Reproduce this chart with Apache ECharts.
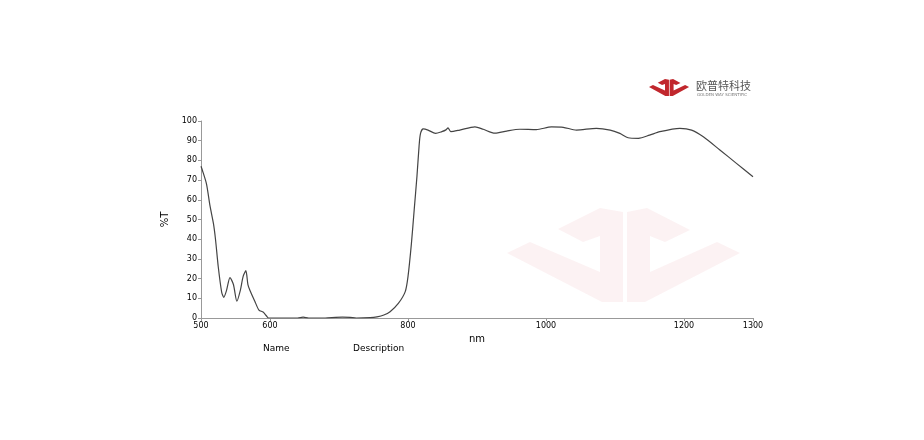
<!DOCTYPE html>
<html>
<head>
<meta charset="utf-8">
<style>
html,body{margin:0;padding:0;background:#fff;}
#chart{width:924px;height:440px;}
</style>
<script src="https://cdn.jsdelivr.net/npm/echarts@6/dist/echarts.min.js"></script>
</head>
<body>
<div id="chart"></div>
<script>
// Wavelength (nm)
var wavelength = [500, 502, 508, 513, 518, 521, 525, 530, 533, 537, 542, 547, 552, 557, 561, 565, 568, 571, 578, 584, 590, 595, 598, 620, 640, 648, 656, 680, 695, 705, 716, 725, 745, 755, 765, 774, 786, 796, 800, 805, 809, 813, 816, 818, 822, 829, 840, 849, 855, 858, 862, 875, 897, 909, 926, 943, 962, 986, 1008, 1025, 1044, 1073, 1093, 1107, 1119, 1134, 1150, 1165, 1194, 1211, 1228, 1252, 1276, 1300];
// Transmittance (%T)
var transmittance = [77, 75, 68, 57, 48, 40, 26, 13, 10.5, 14, 20.5, 17, 8.5, 14, 21, 24, 17, 14, 8.5, 4, 3, 1, 0, 0, 0, 0.4, 0, 0, 0.3, 0.4, 0.3, 0, 0.2, 0.6, 1.5, 3.2, 7.4, 13.4, 21, 38, 55, 72, 87, 93.5, 96, 95.4, 93.7, 94.6, 95.5, 96.5, 94.6, 95.4, 97, 95.8, 93.8, 94.9, 95.8, 95.6, 97, 96.8, 95.4, 96.3, 95.4, 93.7, 91.5, 91.2, 92.8, 94.6, 96.3, 95.4, 92, 85.3, 78.5, 71.7];
// Tick labels
var xTickValues = [500, 600, 800, 1000, 1200, 1300];
var yTickStep = 10;

var seriesData = wavelength.map(function (w, i) { return [w, transmittance[i]]; });

// decorative logo shapes (same outline used for watermark and small logo)
var leftMark = [[507,253],[530,242],[600,272],[600,236],[583,242],[558,229],[600,208],[623,212],[623,302],[602,302]];
var rightMark = [[627,212],[647,208],[690,230],[665,242],[650,236],[650,272],[717,242],[740,253],[645,302],[627,302]];
function shift(pts, ox, oy){ return pts.map(function(p){return [p[0]-ox, p[1]-oy];}); }

var chart = echarts.init(document.getElementById('chart'), null, {renderer: 'canvas'});
var font = '"DejaVu Sans", Verdana, sans-serif';
chart.setOption({
  animation: false,
  backgroundColor: '#ffffff',
  grid: {left: 201, right: 171, top: 121, bottom: 122, containLabel: false},
  graphic: [
    {type: 'group', z: -10, silent: true, children: [
      {type: 'polygon', shape: {points: leftMark}, style: {fill: 'rgba(205,40,50,0.06)'}},
      {type: 'polygon', shape: {points: rightMark}, style: {fill: 'rgba(205,40,50,0.06)'}}
    ]},
    {type: 'group', x: 649, y: 79, scaleX: 0.172, scaleY: 0.18, silent: true, children: [
      {type: 'polygon', shape: {points: shift(leftMark, 507, 208)}, style: {fill: '#c1272d'}},
      {type: 'polygon', shape: {points: shift(rightMark, 507, 208)}, style: {fill: '#c1272d'}}
    ]},
    {type: 'text', x: 696, y: 80, style: {text: '欧普特科技', fill: '#555', font: '11px "Noto Sans CJK SC", sans-serif'}},
    {type: 'text', x: 697, y: 93, style: {text: 'GOLDEN WAY SCIENTIFIC', fill: '#777', font: '4px "DejaVu Sans", sans-serif'}},
    {type: 'text', x: 263, y: 344, style: {text: 'Name', fill: '#000', font: '9px ' + font}},
    {type: 'text', x: 353, y: 344, style: {text: 'Description', fill: '#000', font: '9px ' + font}}
  ],
  xAxis: {
    type: 'value', min: 500, max: 1300, interval: 100,
    name: 'nm', nameLocation: 'middle', nameGap: 16,
    nameTextStyle: {fontFamily: font, fontSize: 10, color: '#000'},
    axisLine: {lineStyle: {color: '#999', width: 1}},
    axisTick: {show: true, length: 3, lineStyle: {color: '#999'}, customValues: xTickValues},
    axisLabel: {fontFamily: font, fontSize: 8, color: '#000', margin: 4, customValues: xTickValues,
      formatter: function (v) { return String(v); }},
    splitLine: {show: false}
  },
  yAxis: {
    type: 'value', min: 0, max: 100, interval: yTickStep,
    name: '%T', nameLocation: 'middle', nameGap: 30, nameRotate: 90,
    nameTextStyle: {fontFamily: font, fontSize: 10, color: '#000'},
    axisLine: {show: true, lineStyle: {color: '#999', width: 1}},
    axisTick: {show: true, length: 3, lineStyle: {color: '#999'}},
    axisLabel: {fontFamily: font, fontSize: 8, color: '#000', margin: 4,
      formatter: function (v) { return String(v); }},
    splitLine: {show: false}
  },
  series: [{
    type: 'line', data: seriesData, showSymbol: false, smooth: 0.25,
    lineStyle: {color: '#444', width: 1.2}, clip: true
  }]
});
</script>
</body>
</html>
